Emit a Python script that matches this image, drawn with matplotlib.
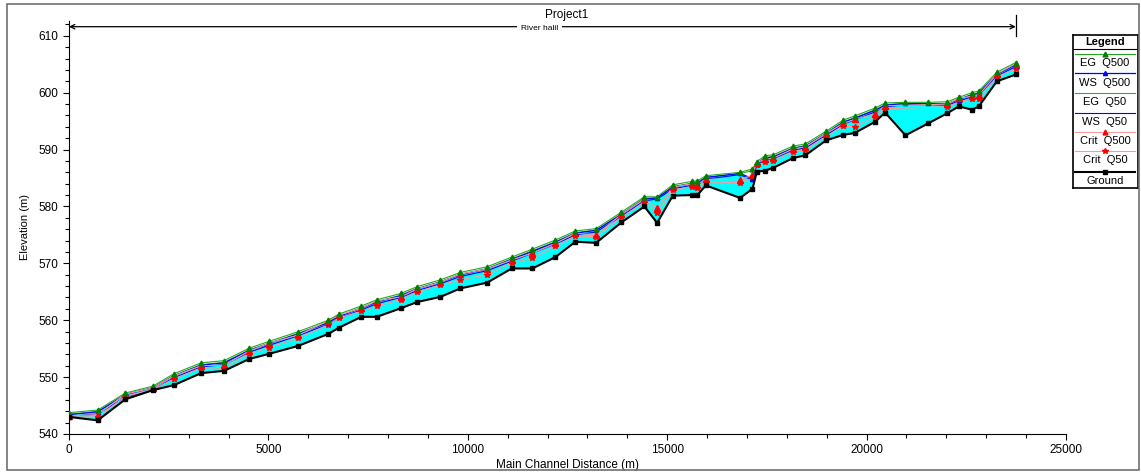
import numpy as np
import matplotlib
matplotlib.use("Agg")
import matplotlib.pyplot as plt
from matplotlib.patches import Rectangle
from matplotlib.ticker import MultipleLocator

plt.rcParams['font.family'] = ['Liberation Sans', 'DejaVu Sans']

# river stations (m) and profiles (m)
station = [0, 720, 1412, 2099, 2633, 3311, 3888, 4522, 5024, 5751,
           6503, 6772, 7331, 7717, 8319, 8728, 9312, 9814, 10483, 11103,
           11620, 12197, 12698, 13217, 13852, 14428, 14747, 15140, 15617, 15757,
           15968, 16829, 17138, 17247, 17455, 17664, 18150, 18467, 18979, 19419,
           19700, 20214, 20465, 20974, 21543, 22027, 22313, 22646, 22814, 23266,
           23742]
ground = [543.0, 542.4, 546.1, 547.7, 548.6, 550.7, 551.1, 553.2, 554.1, 555.5,
          557.6, 558.7, 560.6, 560.6, 562.1, 563.2, 564.1, 565.6, 566.6, 569.1,
          569.1, 571.1, 573.8, 573.6, 577.2, 580.0, 577.1, 581.9, 582.0, 582.0,
          583.7, 581.5, 583.1, 586.1, 586.3, 586.8, 588.5, 589.0, 591.6, 592.6,
          592.9, 594.9, 596.5, 592.5, 594.6, 596.4, 597.6, 597.0, 597.6, 602.0,
          603.2]
eg_q500 = [543.75, 544.2, 547.2, 548.4, 550.6, 552.5, 552.9, 555.1, 556.3, 558.0,
           560.0, 561.1, 562.5, 563.6, 564.7, 565.9, 567.1, 568.4, 569.4, 571.1,
           572.5, 574.1, 575.7, 576.1, 579.0, 581.7, 581.7, 583.8, 584.4, 584.5,
           585.4, 586.0, 586.6, 587.9, 588.9, 589.1, 590.6, 591.0, 593.2, 595.2,
           595.9, 597.3, 598.2, 598.3, 598.3, 598.4, 599.2, 600.0, 600.3, 603.6,
           605.3]
ws_q500 = [543.4, 543.9, 546.9, 548.1, 550.2, 552.1, 552.5, 554.7, 555.9, 557.6,
           559.6, 560.7, 562.1, 563.2, 564.3, 565.5, 566.7, 568.0, 569.0, 570.7,
           572.1, 573.7, 575.3, 575.8, 578.6, 581.3, 581.5, 583.4, 584.0, 584.1,
           585.1, 585.8, 584.9, 587.5, 588.5, 588.7, 590.2, 590.6, 592.8, 594.8,
           595.5, 596.9, 597.8, 598.1, 598.1, 598.0, 598.8, 599.6, 599.9, 603.2,
           604.9]
eg_q50 = [543.5, 543.95, 546.95, 548.15, 550.3, 552.2, 552.6, 554.8, 556.0, 557.7,
          559.7, 560.8, 562.2, 563.3, 564.4, 565.6, 566.8, 568.1, 569.1, 570.8,
          572.2, 573.8, 575.4, 575.85, 578.7, 581.45, 581.5, 583.5, 584.1, 584.2,
          585.1, 585.8, 586.3, 587.6, 588.6, 588.8, 590.3, 590.7, 592.9, 594.9,
          595.6, 597.0, 597.9, 598.1, 598.1, 598.1, 598.9, 599.7, 600.0, 603.3,
          605.0]
ws_q50 = [543.1, 543.5, 546.5, 547.7, 549.9, 551.8, 552.2, 554.4, 555.6, 557.3,
          559.3, 560.4, 561.8, 562.9, 564.0, 565.2, 566.4, 567.7, 568.7, 570.4,
          571.8, 573.4, 575.0, 575.5, 578.3, 581.0, 581.3, 583.1, 583.7, 583.8,
          584.8, 585.6, 584.6, 587.2, 588.2, 588.4, 589.9, 590.3, 592.5, 594.5,
          595.2, 596.6, 597.5, 597.9, 597.9, 597.8, 598.5, 599.3, 599.6, 602.9,
          604.6]
crit_q500 = [543.2, 543.4, 547.0, 548.1, 550.2, 552.0, 552.1, 554.6, 556.0, 557.4,
             559.9, 560.9, 562.1, 563.4, 564.1, 565.5, 566.7, 568.1, 569.0, 570.6,
             571.8, 573.5, 575.3, 575.0, 578.6, 581.3, 579.7, 583.4, 584.0, 583.8,
             584.8, 584.7, 585.5, 587.7, 588.3, 588.5, 590.1, 590.5, 592.8, 594.6,
             595.3, 596.3, 597.7, np.nan, np.nan, 598.0, 599.0, 599.4, 599.6, 603.3,
             605.1]
crit_q50 = [543.0, 543.0, 546.6, 547.8, 549.7, 551.6, 551.6, 554.1, 555.2, 556.9,
            559.2, 560.4, 561.6, 562.5, 563.6, 565.0, 566.2, 567.1, 568.0, 570.1,
            570.9, 573.0, 574.8, 574.7, 578.1, 580.8, 578.8, 582.9, 583.5, 583.3,
            584.3, 584.2, 585.0, 587.2, 587.8, 588.0, 589.6, 590.0, 592.3, 594.1,
            594.0, 595.8, 597.2, np.nan, np.nan, 597.5, 598.4, 598.9, 598.9, 602.8,
            604.2]


def valid(x, y):
    x = np.asarray(x, float); y = np.asarray(y, float)
    m = ~np.isnan(y)
    return x[m], y[m]


fig = plt.figure(figsize=(11.41, 4.72), dpi=100)
W, H = 1141.0, 472.0

# outer frame
fig.patches.append(Rectangle((7 / W, 2 / H), 1132 / W, 466 / H, transform=fig.transFigure,
                             fill=False, edgecolor='#707070', lw=1.2))

ax = fig.add_axes([69 / W, 1 - 434 / H, 997 / W, 413 / H])
ax.set_xlim(0, 25000)
ax.set_ylim(540, 612.6)

ax.fill_between(station, ground, ws_q500, color='#00ffff', lw=0, zorder=1)

ax.plot(station, ws_q50, color='#0000ff', lw=0.8, zorder=2)
ax.plot(station, eg_q50, color='#33aa33', lw=0.8, zorder=2)
x, y = valid(station, crit_q50)
ax.plot(x, y, color='#ff9999', lw=0.8, marker='*', ms=4, mfc='red', mec='red', zorder=3)
ax.plot(station, ws_q500, color='#0000ff', lw=0.9, marker='^', ms=3, mfc='#0000ff', mec='#0000ff', zorder=3)
x, y = valid(station, crit_q500)
ax.plot(x, y, color='#ff9999', lw=0.8, marker='^', ms=4, mfc='red', mec='red', zorder=4)
ax.plot(station, eg_q500, color='#22aa22', lw=0.8, marker='^', ms=3.5, mfc='#008000', mec='#008000', zorder=4)
ax.plot(station, ground, color='black', lw=1.5, marker='s', ms=3.5, zorder=5)

for s in ['top', 'right']:
    ax.spines[s].set_visible(False)
ax.xaxis.set_major_locator(MultipleLocator(5000))
ax.xaxis.set_minor_locator(MultipleLocator(1000))
ax.yaxis.set_major_locator(MultipleLocator(10))
ax.yaxis.set_minor_locator(MultipleLocator(2))
ax.tick_params(labelsize=8.5, length=4, width=0.8)
ax.tick_params(which='minor', length=3, width=0.8)
ax.set_xlabel('Main Channel Distance (m)', fontsize=8.5, labelpad=2)
ax.set_ylabel('Elevation (m)', fontsize=8, labelpad=6)

# reach arrow
y_arr = 611.6
ax.annotate('', xy=(0, y_arr), xytext=(station[-1], y_arr),
            arrowprops=dict(arrowstyle='<->', color='black', lw=0.9,
                            shrinkA=0, shrinkB=0, mutation_scale=8),
            annotation_clip=False)
ax.plot([station[-1], station[-1]], [610.0, 613.6], color='black', lw=0.9, clip_on=False)
ax.text(11800, y_arr - 0.3, 'River halil', fontsize=6, ha='center', va='center',
        bbox=dict(facecolor='white', edgecolor='none', pad=2.5), clip_on=False)
fig.text(567 / W, 1 - 15 / H, 'Project1', fontsize=8.5, ha='center', va='center')

# legend box
lg = fig.add_axes([1072.5 / W, 1 - 188 / H, 65 / W, 153 / H])
lg.set_xlim(1072.5, 1137.5)
lg.set_ylim(188, 35)
lg.set_xticks([]); lg.set_yticks([])
for s in lg.spines.values():
    s.set_linewidth(1.2)
lg.text(1105, 42.3, 'Legend', fontsize=8, fontweight='bold', ha='center', va='center')
lg.plot([1072.5, 1137.5], [49, 49], color='black', lw=0.8)

leg_names = ['EG  Q500', 'WS  Q500', 'EG  Q50', 'WS  Q50', 'Crit  Q500', 'Crit  Q50', 'Ground']
leg_line_y = [54, 73.3, 92.7, 112.7, 131.7, 151, 171.7]
leg_text_y = [63.3, 82.7, 102, 121.7, 141, 160, 180.7]
leg_styles = [
    dict(color='#22aa22', lw=0.8, marker='^', ms=3.5, mfc='#008000', mec='#008000'),
    dict(color='#0000ff', lw=0.9, marker='^', ms=3, mfc='#0000ff', mec='#0000ff'),
    dict(color='#33aa33', lw=0.8),
    dict(color='#0000ff', lw=0.8),
    dict(color='#ff9999', lw=0.8, marker='^', ms=3.5, mfc='red', mec='red'),
    dict(color='#ff9999', lw=0.8, marker='*', ms=4, mfc='red', mec='red'),
    dict(color='black', lw=1.5, marker='s', ms=3.5),
]
for name, ly, ty, st in zip(leg_names, leg_line_y, leg_text_y, leg_styles):
    lg.plot([1075, 1105, 1135], [ly, ly, ly], **st, markevery=[1])
    lg.text(1105, ty, name, fontsize=8, ha='center', va='center')

fig.savefig('out.png', dpi=100)
